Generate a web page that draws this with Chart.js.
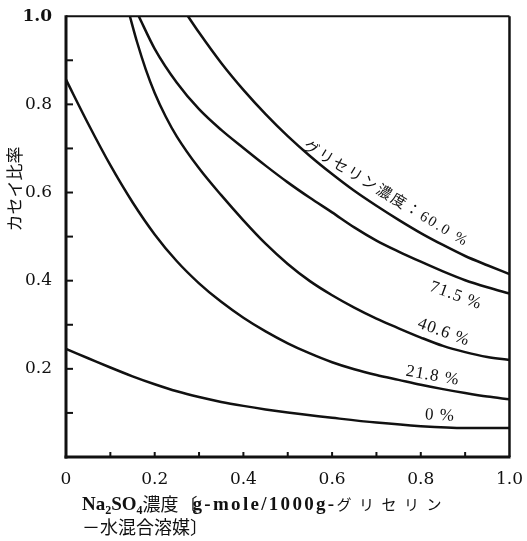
<!DOCTYPE html>
<html>
<head>
<meta charset="utf-8">
<script src="https://cdn.jsdelivr.net/npm/chart.js"></script>
<style>
  body { margin: 0; background: #fff; }
</style>
</head>
<body>
<canvas id="chart" width="527" height="541"></canvas>
<script>
// glycerin concentration of each curve
const seriesNames = ['0%', '21.8%', '40.6%', '71.5%', '60.0%'];

// Na2SO4 concentration (x) and caustic ratio (y)
const x0 = [0, 0.05, 0.1, 0.15, 0.2, 0.25, 0.3, 0.35, 0.4, 0.45, 0.5, 0.6, 0.7, 0.8, 0.9, 1.0];
const y0 = [0.245, 0.224, 0.203, 0.183, 0.165, 0.149, 0.136, 0.125, 0.116, 0.108, 0.101, 0.089, 0.078, 0.07, 0.066, 0.066];

const x218 = [0, 0.05, 0.1, 0.15, 0.2, 0.25, 0.3, 0.35, 0.4, 0.45, 0.5, 0.55, 0.6, 0.65, 0.7, 0.75, 0.8, 0.85, 0.9, 0.95, 1.0];
const y218 = [0.856, 0.756, 0.662, 0.578, 0.505, 0.444, 0.394, 0.352, 0.316, 0.285, 0.258, 0.235, 0.215, 0.199, 0.186, 0.175, 0.164, 0.154, 0.145, 0.137, 0.131];

const x406 = [0.144, 0.16, 0.18, 0.2, 0.225, 0.25, 0.3, 0.35, 0.4, 0.45, 0.5, 0.55, 0.6, 0.65, 0.7, 0.75, 0.8, 0.85, 0.9, 0.95, 1.0];
const y406 = [1.0, 0.942, 0.879, 0.826, 0.772, 0.727, 0.655, 0.594, 0.537, 0.484, 0.438, 0.399, 0.367, 0.339, 0.314, 0.292, 0.271, 0.252, 0.238, 0.227, 0.22];

const x715 = [0.164, 0.2, 0.25, 0.3, 0.35, 0.4, 0.45, 0.5, 0.55, 0.6, 0.65, 0.7, 0.75, 0.8, 0.85, 0.9, 0.95, 1.0];
const y715 = [1.0, 0.926, 0.849, 0.789, 0.742, 0.701, 0.661, 0.623, 0.588, 0.555, 0.521, 0.491, 0.466, 0.443, 0.421, 0.401, 0.385, 0.371];

const x600 = [0.275, 0.3, 0.35, 0.4, 0.45, 0.5, 0.55, 0.6, 0.65, 0.7, 0.75, 0.8, 0.85, 0.9, 0.95, 1.0];
const y600 = [1.0, 0.963, 0.894, 0.833, 0.778, 0.728, 0.683, 0.642, 0.604, 0.57, 0.538, 0.508, 0.481, 0.456, 0.435, 0.415];

const xTicks = [0, 0.2, 0.4, 0.6, 0.8, 1.0];
const yTicks = [0.2, 0.4, 0.6, 0.8, 1.0];
const minorTicks = [0.1, 0.2, 0.3, 0.4, 0.5, 0.6, 0.7, 0.8, 0.9];

const xs = [x0, x218, x406, x715, x600];
const ys = [y0, y218, y406, y715, y600];

// where each curve label sits (data units) and its tilt in degrees
const labelSpots = [
  { x: 0.843, y: 0.094, rot: 3, text: '0 %' },
  { x: 0.827, y: 0.184, rot: 10, text: '21.8 %' },
  { x: 0.852, y: 0.283, rot: 20, text: '40.6 %' },
  { x: 0.879, y: 0.366, rot: 20, text: '71.5 %' },
  { x: 0.721, y: 0.596, rot: 31, text: 'グリセリン濃度：60.0 %' }
];

const SERIF = "'DejaVu Serif', serif";
const LSERIF = "'Liberation Serif', serif";
const JP = "'Noto Sans CJK JP', sans-serif";

function spaced(ctx, text, x, y, gap) {
  for (const ch of text) {
    ctx.fillText(ch, x, y);
    x += ctx.measureText(ch).width + gap;
  }
  return x;
}

const decor = {
  id: 'decor',
  afterDraw(chart) {
    const ctx = chart.ctx;
    const a = chart.chartArea;
    const sx = chart.scales.x, sy = chart.scales.y;
    ctx.save();
    ctx.strokeStyle = '#111';
    ctx.fillStyle = '#111';

    // frame
    ctx.lineWidth = 2;
    ctx.beginPath(); ctx.moveTo(a.left, a.top); ctx.lineTo(a.right, a.top); ctx.stroke();
    ctx.lineWidth = 2.5;
    ctx.beginPath(); ctx.moveTo(a.right, a.top); ctx.lineTo(a.right, a.bottom); ctx.stroke();
    ctx.lineWidth = 3;
    ctx.beginPath(); ctx.moveTo(a.left, a.top - 1); ctx.lineTo(a.left, a.bottom + 1.5); ctx.stroke();
    ctx.beginPath(); ctx.moveTo(a.left - 1.5, a.bottom); ctx.lineTo(a.right + 1, a.bottom); ctx.stroke();

    // inward tick marks
    ctx.lineWidth = 2;
    minorTicks.forEach(v => {
      const py = sy.getPixelForValue(v);
      ctx.beginPath(); ctx.moveTo(a.left, py); ctx.lineTo(a.left + 7, py); ctx.stroke();
      const px = sx.getPixelForValue(v);
      ctx.beginPath(); ctx.moveTo(px, a.bottom); ctx.lineTo(px, a.bottom - 5); ctx.stroke();
    });

    // curve labels
    ctx.textAlign = 'center';
    ctx.textBaseline = 'middle';
    labelSpots.forEach(l => {
      ctx.save();
      ctx.translate(sx.getPixelForValue(l.x), sy.getPixelForValue(l.y));
      ctx.rotate(l.rot * Math.PI / 180);
      ctx.font = "normal 17px " + LSERIF + ", " + JP;
      ctx.letterSpacing = '1px';
      if (l.text.length > 8) {
        ctx.font = "normal 15px " + LSERIF + ", " + JP;
        ctx.letterSpacing = '2px';
      }
      ctx.fillText(l.text, 0, 0);
      ctx.restore();
    });

    // y axis title
    ctx.save();
    ctx.translate(15, 189);
    ctx.rotate(-Math.PI / 2);
    ctx.font = "17px " + JP;
    ctx.fillText('カセイ比率', 0, 0);
    ctx.restore();

    // x axis title (two lines)
    ctx.textAlign = 'left';
    ctx.textBaseline = 'alphabetic';
    let x = 82;
    const b1 = 510;
    ctx.font = "bold 19px " + LSERIF;
    x = spaced(ctx, 'Na', x, b1, 0);
    ctx.font = "bold 12px " + LSERIF;
    x = spaced(ctx, '2', x, b1 + 4, 0);
    ctx.font = "bold 19px " + LSERIF;
    x = spaced(ctx, 'SO', x, b1, 0);
    ctx.font = "bold 12px " + LSERIF;
    x = spaced(ctx, '4', x, b1 + 4, 0);
    ctx.font = "18px " + JP;
    x = spaced(ctx, '濃度', x, b1 + 1, 0);
    ctx.fillText('〔', x + 1, b1 + 1);
    x += 14;
    ctx.font = "bold 19px " + LSERIF;
    x = spaced(ctx, 'g-mole/1000g-', x, b1, 2.3);
    ctx.font = "15px " + JP;
    spaced(ctx, 'グリセリン', x, b1, 7.5);
    ctx.font = "18px " + JP;
    spaced(ctx, '－水混合溶媒〕', 82, 534, 0);

    ctx.restore();
  }
};

new Chart(document.getElementById('chart').getContext('2d'), {
  type: 'scatter',
  data: {
    datasets: seriesNames.map((name, i) => ({
      label: name,
      data: xs[i].map((x, j) => ({ x: x, y: ys[i][j] })),
      showLine: true,
      borderColor: '#111',
      borderWidth: 2.5,
      pointRadius: 0,
      cubicInterpolationMode: 'monotone'
    }))
  },
  options: {
    responsive: false,
    animation: false,
    layout: { padding: { top: 12, right: 16, left: 0, bottom: 0 } },
    plugins: {
      legend: { display: false },
      tooltip: { enabled: false }
    },
    scales: {
      x: {
        type: 'linear',
        min: 0,
        max: 1,
        afterFit: s => { s.height = 84; },
        afterBuildTicks: s => { s.ticks = xTicks.map(v => ({ value: v })); },
        grid: { display: false },
        border: { display: false },
        ticks: {
          color: '#111',
          padding: 4,
          font: { family: SERIF, size: 17 },
          callback: v => v === 0 ? '0' : v.toFixed(1)
        }
      },
      y: {
        min: 0,
        max: 1,
        afterFit: s => { s.width = 66; },
        afterBuildTicks: s => { s.ticks = yTicks.map(v => ({ value: v })); },
        grid: { display: false },
        border: { display: false },
        ticks: {
          color: '#111',
          padding: 6,
          font: c => ({ family: SERIF, size: 17, weight: c.tick && c.tick.value === 1 ? 'bold' : 'normal' }),
          callback: v => v.toFixed(1)
        }
      }
    }
  },
  plugins: [decor]
});
</script>
</body>
</html>
